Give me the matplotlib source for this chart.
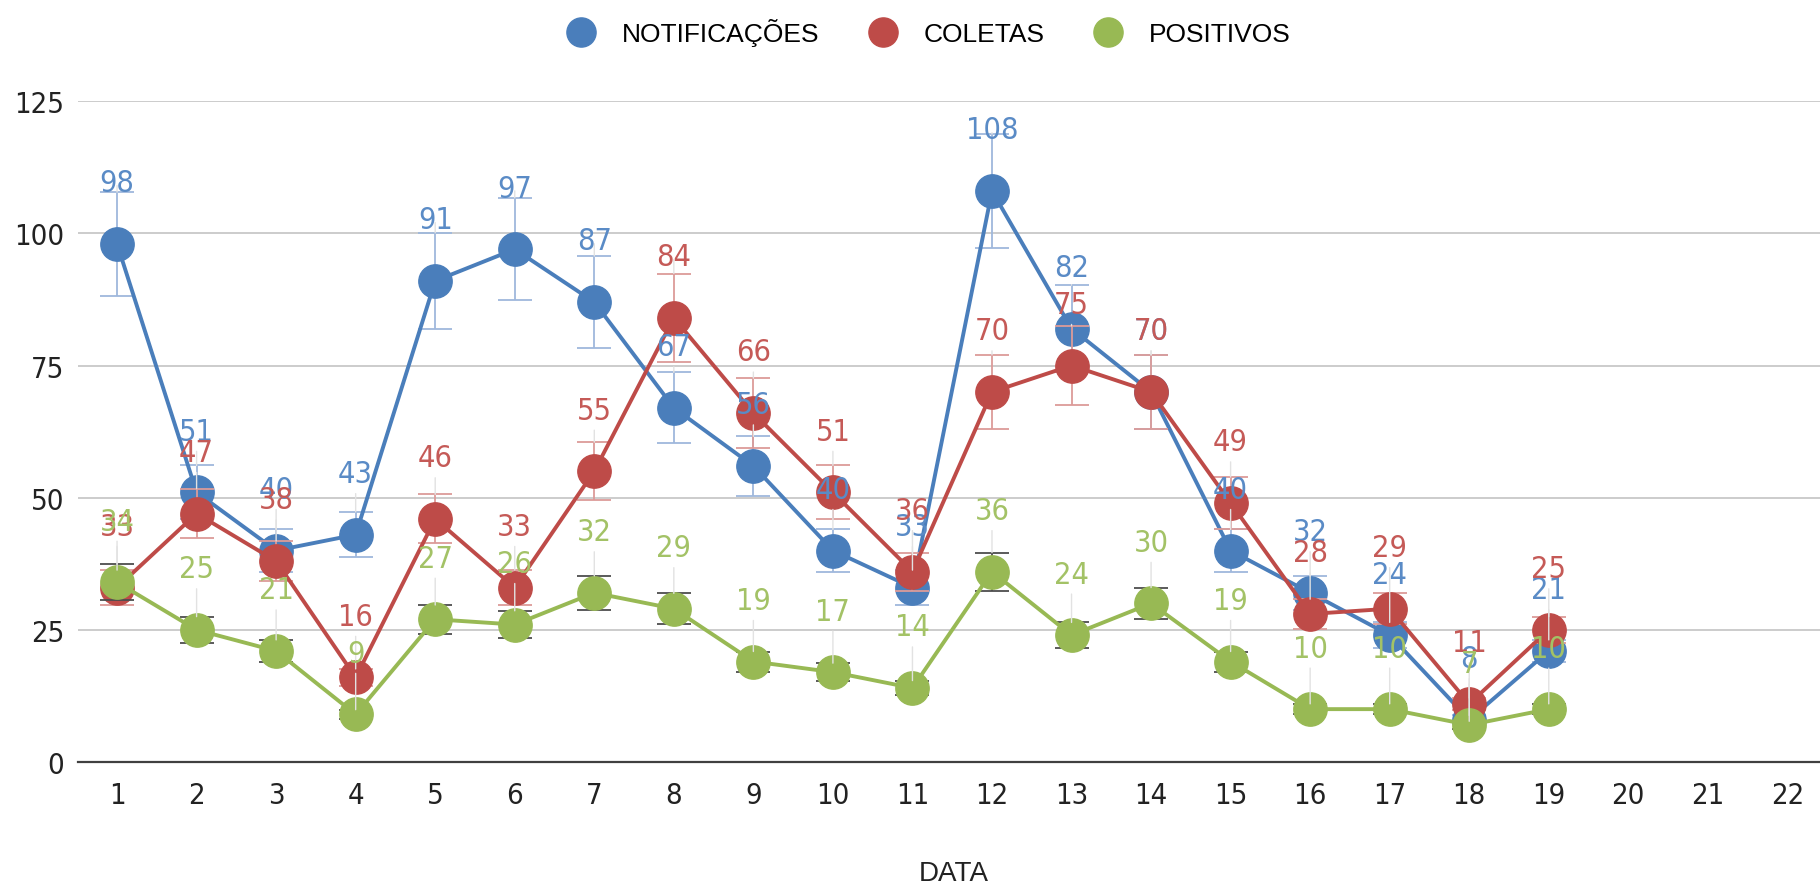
import numpy as np
import matplotlib
matplotlib.use("Agg")
import matplotlib.pyplot as plt
import matplotlib.transforms as mtransforms
from matplotlib.lines import Line2D
from matplotlib import font_manager

# data
dias = list(range(1, 20))
notificacoes = [98, 51, 40, 43, 91, 97, 87, 67, 56, 40, 33, 108, 82, 70, 40, 32, 24, 8, 21]
coletas = [33, 47, 38, 16, 46, 33, 55, 84, 66, 51, 36, 70, 75, 70, 49, 28, 29, 11, 25]
positivos = [34, 25, 21, 9, 27, 26, 32, 29, 19, 17, 14, 36, 24, 30, 19, 10, 10, 7, 10]
nomes = ["NOTIFICAÇÕES", "COLETAS", "POSITIVOS"]
ticks_x = list(range(1, 23))
ticks_y = [0, 25, 50, 75, 100, 125]

cores = ["#4a7ebb", "#be4b48", "#98b954"]
cores_rot = ["#5a8bc6", "#c55a57", "#a3c266"]
cores_err = ["#9fb8dc", "#dc9b99", "#4d4d4d"]

nomes_fontes = {f.name for f in font_manager.fontManager.ttflist}
if "Liberation Sans Narrow" in nomes_fontes:
    narrow = dict(family="Liberation Sans Narrow")
else:
    narrow = dict(family="DejaVu Sans", stretch="condensed")
regular = ["Liberation Sans", "DejaVu Sans"]

fig = plt.figure(figsize=(18.2, 8.87), dpi=100)
ax = fig.add_axes([0.0429, 0.1398, 0.9571, 0.745])

x = np.array(dias)
series = [notificacoes, coletas, positivos]
for i, vals in enumerate(series):
    v = np.array(vals, dtype=float)
    ax.errorbar(x, v, yerr=0.1 * v, fmt="none", ecolor=cores_err[i],
                elinewidth=1.3, capsize=12, capthick=1.3, zorder=2 + i)
    ax.plot(x, v, color=cores[i], lw=2.8, marker="o", markersize=24,
            zorder=3 + i)

# data labels, with faint leader lines down to the error bar
trans = mtransforms.offset_copy(ax.transData, fig=fig, y=44, units="points")
for i, vals in enumerate(series):
    for xi, vi in zip(dias, vals):
        ax.annotate(str(vi), xy=(xi, vi * 1.1), xycoords="data",
                    xytext=(xi, vi), textcoords=trans,
                    ha="center", va="center", fontsize=22,
                    color=cores_rot[i], zorder=10 + i, **narrow,
                    arrowprops=dict(arrowstyle="-", color="#e2e2e2", lw=1,
                                    shrinkA=2, shrinkB=0))

ax.set_xlim(0.51, 22.41)
ax.set_ylim(0, 125)
ax.set_xticks(ticks_x)
ax.set_yticks(ticks_y)
ax.set_xticklabels([str(t) for t in ticks_x], fontsize=21, **narrow)
ax.set_yticklabels([str(t) for t in ticks_y], fontsize=21, **narrow)
ax.tick_params(length=0, pad=10, colors="#222222")
ax.tick_params(axis="x", pad=14)
ax.grid(axis="y", color="#c8c8c8", lw=1.3)
ax.set_axisbelow(True)
for s in ["top", "right", "left"]:
    ax.spines[s].set_visible(False)
ax.spines["bottom"].set_color("#404040")
ax.spines["bottom"].set_linewidth(1.6)

fig.text(0.524, 0.0145, "DATA", ha="center", va="center", fontsize=20,
         family=regular, color="#222222")

handles = [Line2D([], [], ls="none", marker="o", markersize=21, color=c)
           for c in cores]
leg = fig.legend(handles, nomes, loc="upper center", ncol=3,
                 bbox_to_anchor=(0.507, 1.005), frameon=False,
                 prop={"family": regular, "size": 19},
                 handletextpad=0.55, columnspacing=1.4)

fig.savefig("out.png", dpi=100, facecolor="white")
